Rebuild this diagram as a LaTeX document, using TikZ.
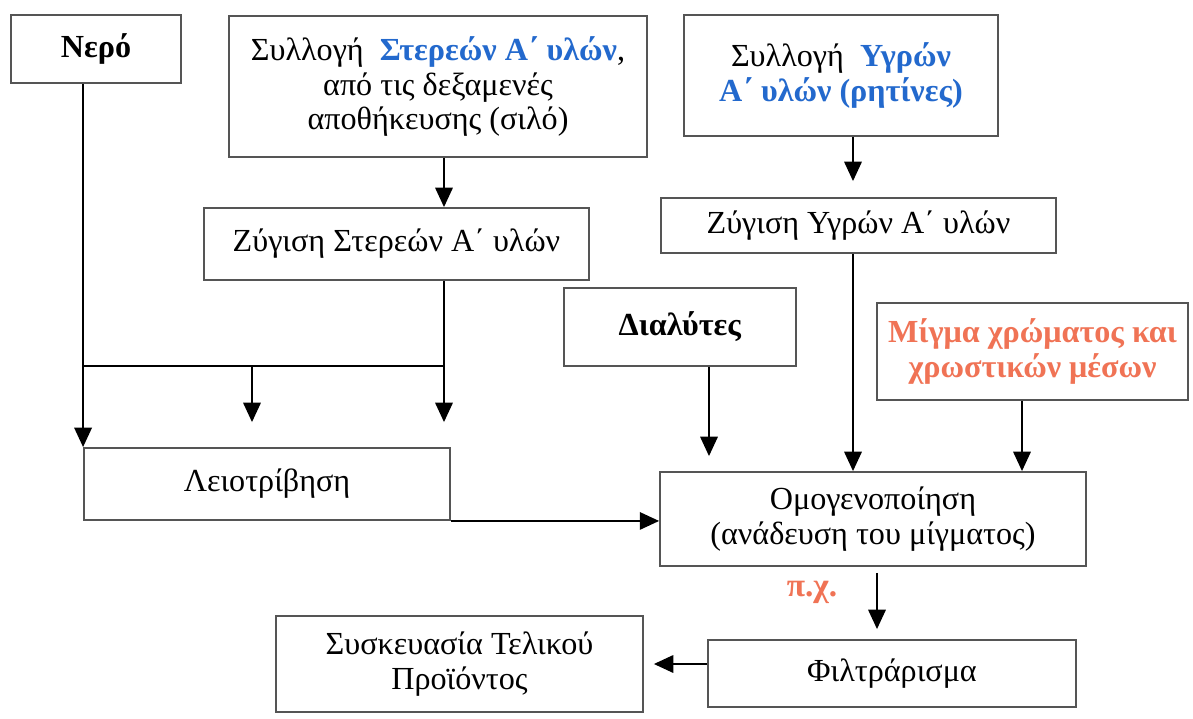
\documentclass[tikz,border=0pt]{standalone}
\usepackage{fontspec}
\setmainfont{Liberation Serif}
\usetikzlibrary{arrows.meta}
\definecolor{matblue}{RGB}{35,105,205}
\definecolor{matorange}{RGB}{240,115,85}
\definecolor{boxline}{RGB}{85,85,85}
\tikzset{
  stage/.style={draw=boxline, line width=1.1pt, fill=white, align=center,
    inner sep=2pt, font=\fontsize{18.3}{19.5}\selectfont},
  flow/.style={line width=0.8pt, -{Triangle[width=10pt,length=11pt]}},
  feed/.style={line width=0.8pt},
}

\begin{document}
\begin{tikzpicture}[x=0.02cm,y=-0.02cm]
  \useasboundingbox (0,0) rectangle (1193,719);
  % inputs
  \node[stage, minimum width=3.4cm, minimum height=1.36cm] (nero) at (96,49) {\textbf{Νερό}};
  \node[stage, minimum width=8.36cm, minimum height=2.82cm] (sylstereo) at (438,86.5)
    {Συλλογή\ \ \textcolor{matblue}{\textbf{Στερεών Α΄ υλών}},\\από τις δεξαμενές\\αποθήκευσης (σιλό)};
  \node[stage, minimum width=6.28cm, minimum height=2.42cm] (sylygro) at (841,75.5)
    {Συλλογή\ \ \textcolor{matblue}{\textbf{Υγρών}}\\\textcolor{matblue}{\textbf{Α΄ υλών (ρητίνες)}}};
  \node[stage, minimum width=7.7cm, minimum height=1.44cm] (zygstereo) at (396.5,244) {Ζύγιση Στερεών Α΄ υλών};
  \node[stage, minimum width=7.9cm, minimum height=1.1cm] (zygygro) at (858.5,225.5) {Ζύγιση Υγρών Α΄ υλών};
  \node[stage, minimum width=4.64cm, minimum height=1.56cm] (dialytes) at (680,327) {\textbf{Διαλύτες}};
  \node[stage, minimum width=6.22cm, minimum height=1.94cm] (migma) at (1032.5,351.5)
    {\textcolor{matorange}{\textbf{Μίγμα χρώματος και}}\\\textcolor{matorange}{\textbf{χρωστικών μέσων}}};
  % processing
  \node[stage, minimum width=7.32cm, minimum height=1.44cm] (leiotr) at (267,484) {Λειοτρίβηση};
  \node[stage, minimum width=8.52cm, minimum height=1.88cm] (omog) at (873,519)
    {Ομογενοποίηση\\(ανάδευση του μίγματος)};
  \node[stage, minimum width=7.36cm, minimum height=1.34cm] (filtr) at (892,673.5) {Φιλτράρισμα};
  \node[stage, minimum width=7.34cm, minimum height=1.92cm] (syskev) at (459.5,664)
    {Συσκευασία Τελικού\\Προϊόντος};
  \node[font=\fontsize{19}{20}\selectfont, text=matorange] (eg) at (812,592) {\textbf{π.χ.}};
  % helper points
  \coordinate (busL) at (84,366);
  \coordinate (busR) at (444,366);
  \coordinate (busM) at (252,366);
  \coordinate (ydrop) at (853,0);
  \coordinate (ddrop) at (709,0);
  \coordinate (mdrop) at (1022,0);
  \coordinate (fdrop) at (877,0);
  \coordinate (pline) at (0,664);
  % connectors
  \draw[flow] (nero.south -| leiotr.north west) -- (leiotr.north west);
  \draw[flow] (sylstereo.south -| busR) -- (zygstereo.north -| busR);
  \draw[feed] (zygstereo.south -| busR) -- (busR) -- (busL);
  \draw[flow, shorten >=0.5cm] (busR) -- (leiotr.north -| busR);
  \draw[flow, shorten >=0.5cm] (busM) -- (leiotr.north -| busM);
  \draw[flow, shorten >=0.32cm] (sylygro.south -| ydrop) -- (zygygro.north -| ydrop);
  \draw[flow] (zygygro.south -| ydrop) -- (omog.north -| ydrop);
  \draw[flow, shorten >=0.3cm] (dialytes.south -| ddrop) -- (omog.north -| ddrop);
  \draw[flow] (migma.south -| mdrop) -- (omog.north -| mdrop);
  \draw[flow] (leiotr.south east) -- (leiotr.south east -| omog.west);
  \draw[flow, shorten <=0.12cm, shorten >=0.2cm] (omog.south -| fdrop) -- (filtr.north -| fdrop);
  \draw[flow, shorten >=0.2cm] (filtr.west |- pline) -- (syskev.east |- pline);
\end{tikzpicture}
\end{document}
